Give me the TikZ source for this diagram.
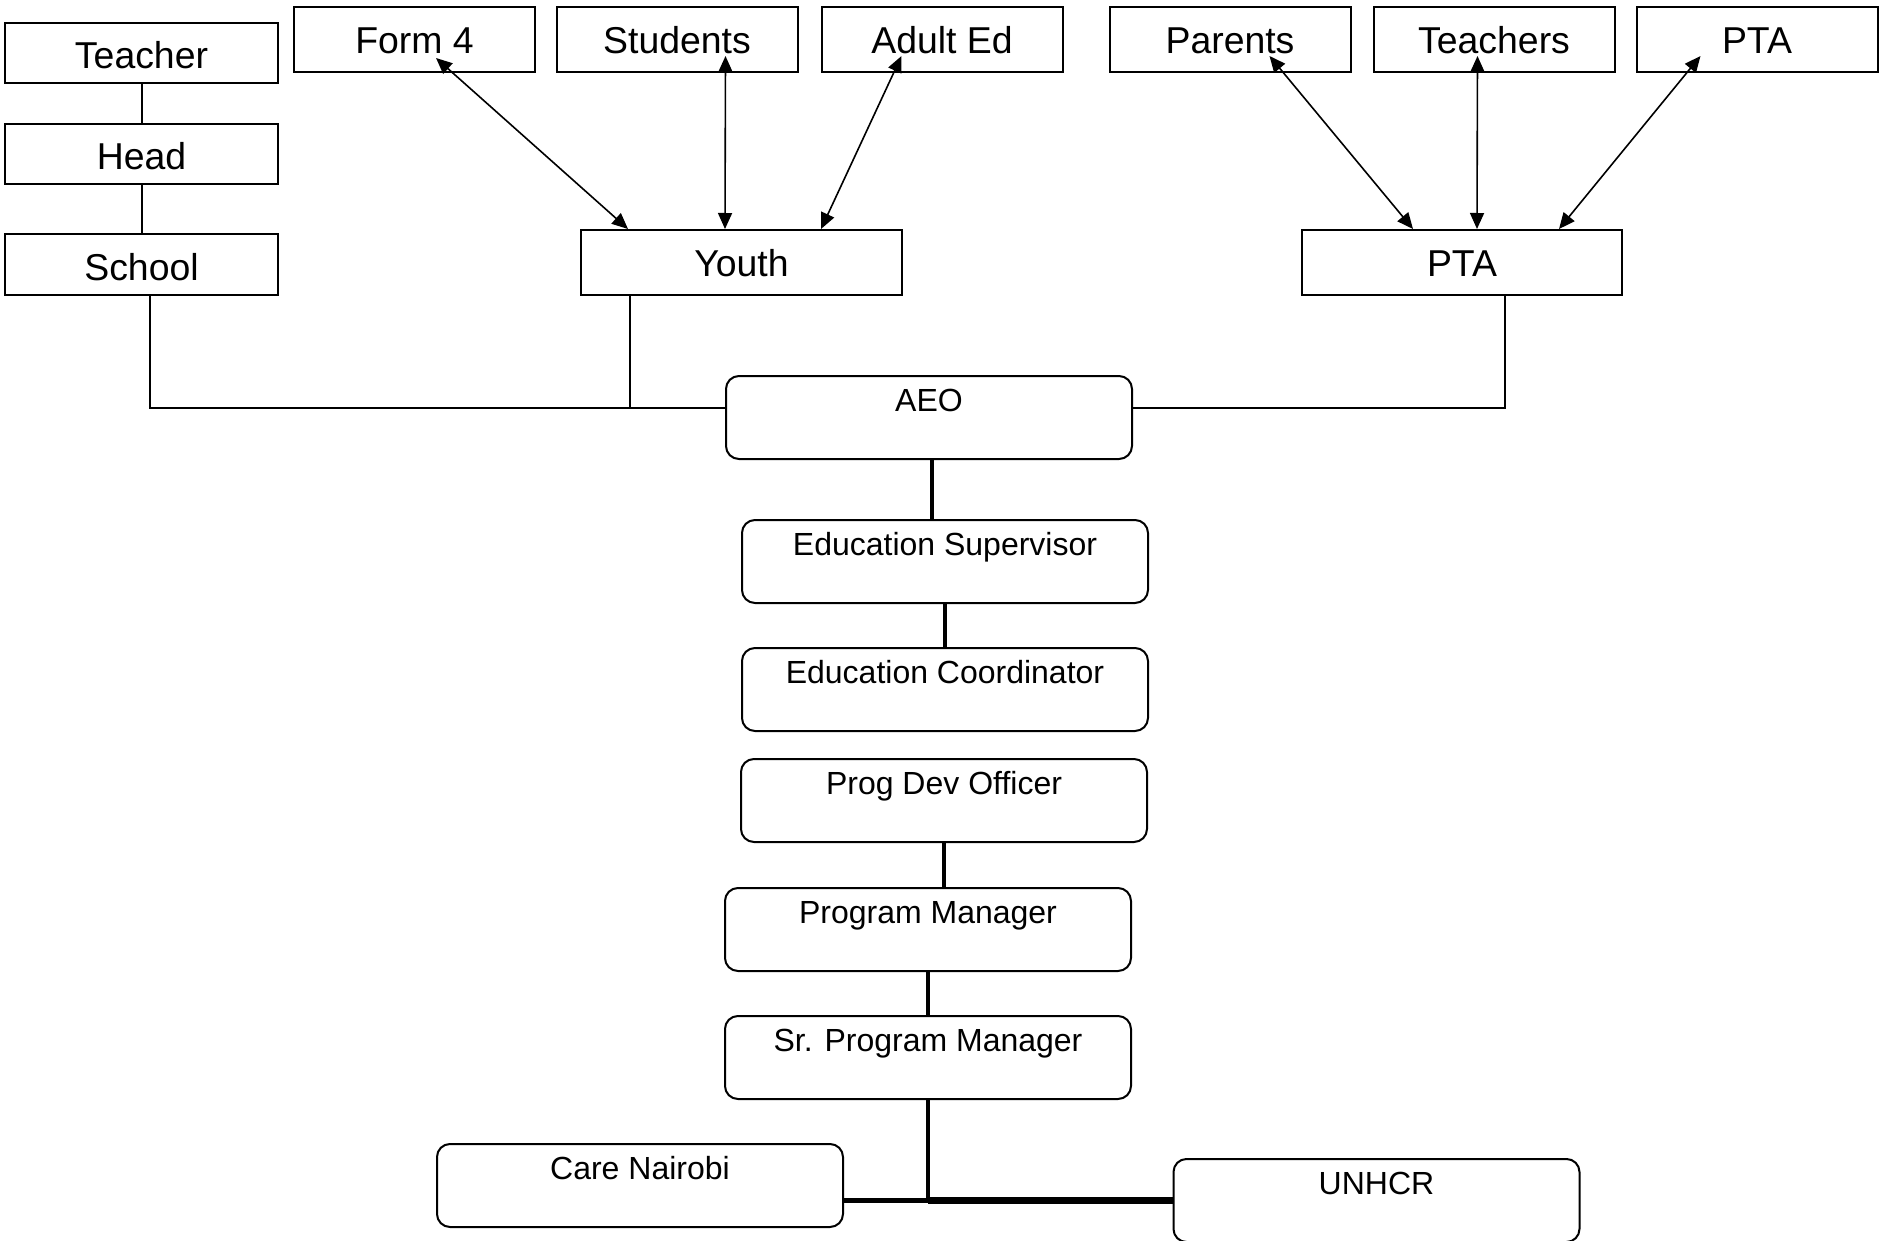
\documentclass[tikz,border=0pt]{standalone}
\usepackage{fontspec}
\setmainfont{Liberation Sans}
\usetikzlibrary{arrows.meta,calc}
\begin{document}
\begin{tikzpicture}[x=0.5pt,y=-0.5pt,
  sq/.style={draw, line width=1pt, rectangle, inner sep=0pt, text height=15.8pt, text depth=0pt,
    font=\fontsize{18.7}{20}\selectfont},
  sqtop/.style={sq, text height=14.2pt},
  rb/.style={draw, line width=1pt, rounded corners=6.5pt, inner sep=0pt, minimum width=203pt,
    text height=17.5pt, text depth=24pt, anchor=north, font=\fontsize{16}{18}\selectfont},
  thinline/.style={line width=1pt},
  boldline/.style={line width=2pt},
  biarrow/.style={line width=0.8pt, {Triangle[length=8pt,width=7pt]}-{Triangle[length=8pt,width=7pt]}}
]
\useasboundingbox (0,0) rectangle (1880,1241);

% left column
\node[sq, minimum width=136.5pt, minimum height=30pt] (teacher) at (141.5,53) {Teacher};
\node[sq, minimum width=136.5pt, minimum height=30pt] (head) at (141.5,154) {Head};
\node[sq, minimum width=136.5pt, minimum height=30.5pt] (school) at (141.5,264.5) {School};

% top row
\node[sqtop, minimum width=120.5pt, minimum height=32.5pt] (form4) at (414.5,39.5) {Form 4};
\node[sqtop, minimum width=120.5pt, minimum height=32.5pt] (students) at (677,39.5) {Students};
\node[sqtop, minimum width=120.5pt, minimum height=32.5pt] (adulted) at (942,39.5) {Adult Ed};
\node[sqtop, minimum width=120.5pt, minimum height=32.5pt] (parents) at (1230,39.5) {Parents};
\node[sqtop, minimum width=120.5pt, minimum height=32.5pt] (teachers) at (1494,39.5) {Teachers};
\node[sqtop, minimum width=120.5pt, minimum height=32.5pt] (ptatop) at (1757,39.5) {PTA};

% second row
\node[sqtop, minimum width=160.5pt, minimum height=32.5pt] (youth) at (741.5,262.5) {Youth};
\node[sqtop, minimum width=160pt, minimum height=32.5pt] (pta) at (1462,262.5) {PTA};

% rounded chain
\node[rb] (aeo) at (929,375) {AEO};
\node[rb] (esup) at (945,519) {Education Supervisor};
\node[rb] (ecoord) at (945,647) {Education Coordinator};
\node[rb] (pdo) at (944,758) {Prog Dev Officer};
\node[rb] (pm) at (928,887) {Program Manager};
\node[rb] (srpm) at (928,1015) {Sr. Program Manager};
\node[rb] (care) at (640,1143) {Care Nairobi};
\node[rb] (unhcr) at (1376.5,1158) {UNHCR};

% thin connectors
\draw[thinline] (teacher.south) -- (head.north);
\draw[thinline] (head.south) -- (school.north);
\coordinate (aeoL) at ($(aeo.west)+(0,-10)$);
\coordinate (aeoR) at ($(aeo.east)+(0,-10)$);
\coordinate (schoolB) at ($(school.south)+(8.5,0)$);
\coordinate (youthB) at ($(youth.south)+(-111.5,0)$);
\coordinate (ptaB) at ($(pta.south)+(42.5,0)$);
\draw[thinline] (schoolB) |- (aeoL);
\draw[thinline] (youthB) -- (youthB |- aeoL);
\draw[thinline] (ptaB) |- (aeoR);

% bold chain
\coordinate (aeoB) at ($(aeo.south)+(3,0)$);
\draw[boldline] (aeoB) -- (aeoB |- esup.north);
\draw[boldline] (esup.south) -- (esup.south |- ecoord.north);
\draw[boldline] (pdo.south) -- (pdo.south |- pm.north);
\draw[boldline] (pm.south) -- (pm.south |- srpm.north);
\coordinate (junc) at (srpm.south |- unhcr.west);
\draw[boldline] (srpm.south) -- (junc);
\draw[line width=2.25pt] (junc) -- (care.east |- junc);
\draw[line width=3.5pt] (junc) -- (unhcr.west);

% arrows
\draw[biarrow] ($(form4.south west)+(143,-15)$) -- ($(youth.north west)+(48,0)$);
\draw[biarrow] ($(students.south west)+(170,-17)$) -- ($(youth.north west)+(145,0)$);
\draw[biarrow] ($(adulted.south west)+(81,-17)$) -- ($(youth.north west)+(241,0)$);
\draw[biarrow] ($(parents.south west)+(161,-17)$) -- ($(pta.north west)+(112,0)$);
\draw[biarrow] ($(teachers.south west)+(105,-17)$) -- ($(pta.north west)+(176,0)$);
\draw[biarrow] ($(ptatop.south west)+(65,-17)$) -- ($(pta.north west)+(258,0)$);
\end{tikzpicture}
\end{document}
